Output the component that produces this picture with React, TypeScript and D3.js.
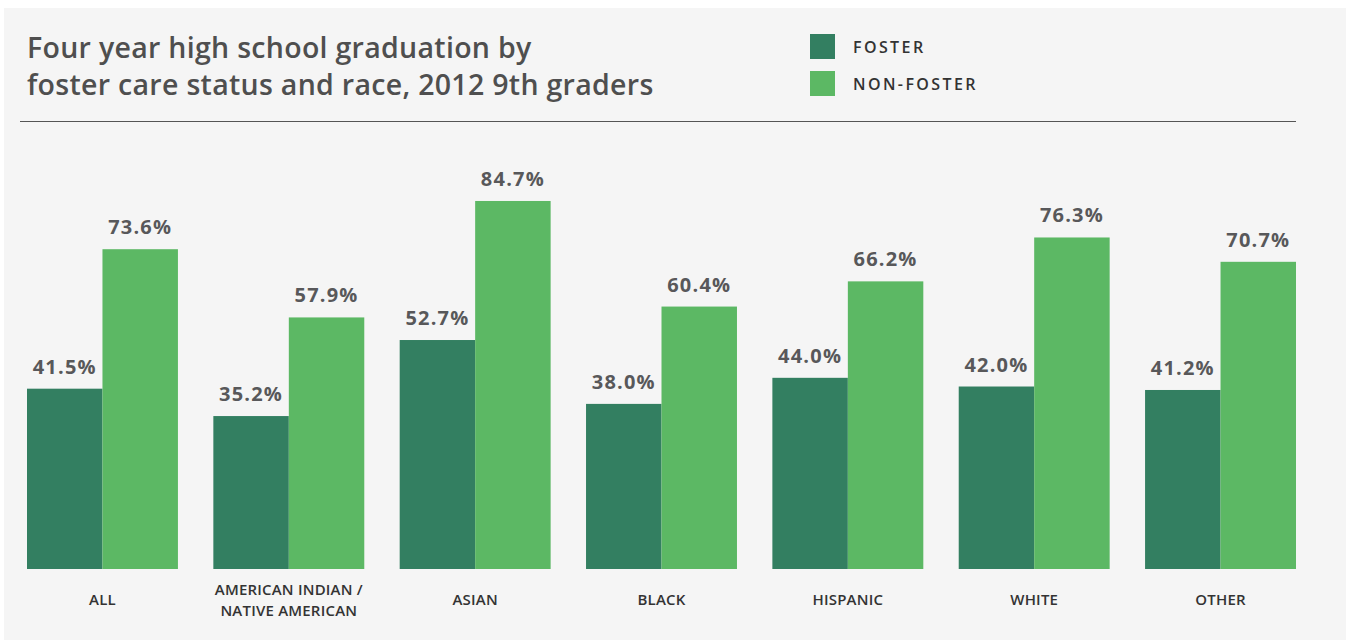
import React from "react";
import * as d3 from "d3";

const categories = ["ALL", "AMERICAN INDIAN /\nNATIVE AMERICAN", "ASIAN", "BLACK", "HISPANIC", "WHITE", "OTHER"];
const fosterValues = [41.5, 35.2, 52.7, 38.0, 44.0, 42.0, 41.2];
const nonFosterValues = [73.6, 57.9, 84.7, 60.4, 66.2, 76.3, 70.7];
const seriesNames = ["FOSTER", "NON-FOSTER"];
const seriesColors = ["#337f61", "#5cb864"];
const titleLines = ["Four year high school graduation by", "foster care status and race, 2012 9th graders"];

export default function App() {
  const W = 1346, H = 643;
  const baseline = 569;
  const x0 = d3.scaleBand<number>().domain(d3.range(categories.length)).range([27, 1296]).paddingInner(0.19).paddingOuter(0);
  const x1 = d3.scaleBand<number>().domain([0, 1]).range([0, x0.bandwidth()]).padding(0);
  const y = d3.scaleLinear().domain([0, 100]).range([baseline, baseline - 434.5]);
  const series = [fosterValues, nonFosterValues];
  const font = "'Open Sans', sans-serif";
  return (
    <div style={{ position: "absolute", left: 0, top: 0 }}>
      <svg width={W} height={H} style={{ display: "block" }}>
        <rect x={4} y={8} width={W - 4} height={632} fill="#f5f5f5" />
        {titleLines.map((t, i) => (
          <text key={i} x={27} y={58 + i * 37} fontFamily={font} fontWeight={600} fontSize={28.5} letterSpacing={0.3} fill="#4f4f4f">{t}</text>
        ))}
        <line x1={20} x2={1296} y1={121.5} y2={121.5} stroke="#555" strokeWidth={1.2} />
        {seriesNames.map((s, i) => (
          <g key={s}>
            <rect x={810} y={34 + i * 37} width={25} height={25} fill={seriesColors[i]} />
            <text x={853} y={47 + i * 37} dy="0.35em" fontFamily={font} fontWeight={600} fontSize={16} letterSpacing={2.4} fill="#333">{s}</text>
          </g>
        ))}
        {categories.map((c, ci) => (
          <g key={ci} transform={`translate(${x0(ci)},0)`}>
            {series.map((vals, si) => {
              const v = vals[ci];
              const bx = x1(si)!;
              const bw = x1.bandwidth();
              return (
                <g key={si}>
                  <rect x={bx} y={y(v)} width={bw} height={baseline - y(v)} fill={seriesColors[si]} />
                  <text x={bx + bw / 2} y={y(v) - 15} textAnchor="middle" fontFamily={font} fontWeight={700} fontSize={20} letterSpacing={1.2} fill="#58585a">{v.toFixed(1) + "%"}</text>
                </g>
              );
            })}
            {c.split("\n").map((line, li, arr) => (
              <text key={li} x={x0.bandwidth() / 2} y={600 + (li - (arr.length - 1) / 2) * 20.5} dy="0.35em" textAnchor="middle" fontFamily={font} fontWeight={600} fontSize={15} letterSpacing={0.2} fill="#333">{line}</text>
            ))}
          </g>
        ))}
      </svg>
    </div>
  );
}
